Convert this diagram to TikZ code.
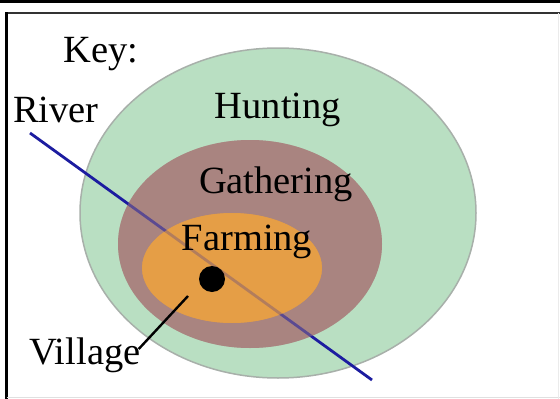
\documentclass[tikz,border=0pt]{standalone}
\usepackage{fontspec}
\setmainfont{Liberation Serif}
\definecolor{huntgreen}{HTML}{B9DFC2}
\definecolor{huntedge}{HTML}{A8B0AA}
\definecolor{gathbrown}{HTML}{A98480}
\definecolor{farmorange}{HTML}{E59E46}
\definecolor{riverblue}{HTML}{1C1CA0}
\begin{document}
\begin{tikzpicture}[x=1pt,y=-1pt,
  lbl/.style={font=\fontsize{38.5}{40}\selectfont, text=black, inner sep=0pt}]
\useasboundingbox (0,0) rectangle (560,399);
\fill[white] (0,0) rectangle (560,399);
% frame
\fill[black] (0,0) rectangle (560,3);
\draw[black!80, line width=2pt] (5,13) -- (560,13);
\draw[black, line width=3pt] (6.5,12) -- (6.5,399);
\draw[black!12, line width=1pt] (6.5,397.5) -- (560,397.5);
\draw[black!8, line width=1pt] (558.5,13) -- (558.5,399);
% zones
\fill[huntgreen, draw=huntedge, line width=1.5pt] (278,213) ellipse [x radius=198, y radius=165];
\fill[gathbrown] (250,244) ellipse [x radius=132, y radius=104];
\fill[farmorange] (232,268) ellipse [x radius=90, y radius=55];
% river
\coordinate (rs) at (30,133);
\coordinate (re) at (372,380);
\draw[riverblue, line width=2.8pt] (rs) -- (re);
% tint river where it crosses the inner zones
\begin{scope}
  \fill[gathbrown, opacity=0.45, even odd rule]
    (250,244) ellipse [x radius=132, y radius=104]
    (232,268) ellipse [x radius=90, y radius=55];
  \fill[farmorange, opacity=0.75] (232,268) ellipse [x radius=90, y radius=55];
\end{scope}
% village
\node[circle, fill=black, minimum size=26pt, inner sep=0pt] (village) at (212,279) {};
\node[lbl] (villagelbl) at (85,355) {Village};
\coordinate (vtip) at (188,296);
\draw[black, line width=2.4pt] (villagelbl.east) ++(-2,-6) coordinate (vstart) -- (vtip);
% labels
\node[lbl] (key) at (101,54) {Key:};
\node[lbl] (river) at (56,110) {River};
\node[lbl] (hunting) at (278,110) {Hunting};
\node[lbl] (gathering) at (276,184) {Gathering};
\node[lbl] (farming) at (247,242) {Farming};
\end{tikzpicture}
\end{document}
